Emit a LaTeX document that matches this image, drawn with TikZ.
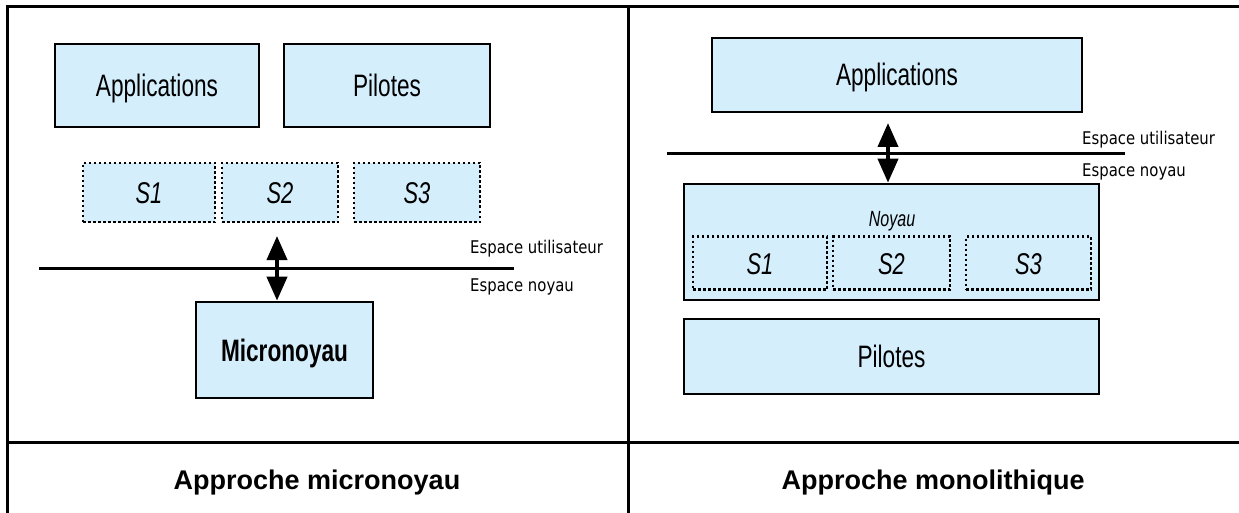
\documentclass[tikz,border=0pt]{standalone}
\usepackage{fontspec}
\setmainfont{Liberation Sans}
\newfontfamily\boxfont{Liberation Sans}[FakeStretch=0.73]
\newfontfamily\spacefont{DejaVu Sans}[FakeStretch=0.85]
\usetikzlibrary{arrows.meta}
\definecolor{boxblue}{RGB}{212,238,252}
\begin{document}
\begin{tikzpicture}[x=1pt,y=-1pt,
  tab/.style={line width=3pt},
  blk/.style={draw=black, line width=2.7pt, fill=boxblue, inner sep=0pt,
    text height=22pt, text depth=0pt,
    font=\boxfont\fontsize{31}{36}\selectfont},
  dotbox/.style={draw=black, line width=2.5pt, dash pattern=on 2.5pt off 2.5pt,
    fill=boxblue, inner sep=0pt, text height=22pt, text depth=0pt,
    font=\boxfont\itshape\fontsize{30}{35}\selectfont},
  sepline/.style={line width=3pt},
  dbl/.style={line width=4pt, {Triangle[length=24pt,width=20pt]}-{Triangle[length=24pt,width=20pt]}},
  lbl/.style={anchor=west, inner sep=0pt, text height=12.5pt, text depth=0pt,
    font=\spacefont\fontsize{17.5}{20}\selectfont},
  captxt/.style={inner sep=0pt, text height=19.5pt, text depth=0pt,
    font=\bfseries\fontsize{27}{32}\selectfont}
]
\useasboundingbox (0,0) rectangle (1239,513);
\fill[white] (0,0) rectangle (1239,513);
% table
\draw[tab] (5.5,7) -- (1239,7);
\draw[tab] (7,5.5) -- (7,513);
\draw[tab] (628,7) -- (628,513);
\draw[tab] (7,442) -- (1239,442);

% ---------- left panel ----------
\node[blk, minimum width=204pt, minimum height=83pt] (appL) at (157,85.5) {Applications};
\node[blk, minimum width=206pt, minimum height=83pt] (pilL) at (387,85.5) {Pilotes};
\node[dotbox, minimum width=132pt, minimum height=59pt] (s1L) at (149,192.5) {S1};
\node[dotbox, minimum width=116pt, minimum height=59pt] (s2L) at (280,192.5) {S2};
\node[dotbox, minimum width=126pt, minimum height=59pt] (s3L) at (417,192.5) {S3};
\coordinate (lineLa) at (39,268);
\coordinate (lineLb) at (514,268);
\draw[sepline] (lineLa) -- (lineLb);
\node[blk, minimum width=177pt, minimum height=96pt, font=\boxfont\bfseries\fontsize{31}{36}\selectfont] (micro) at (284.5,350) {Micronoyau};
\coordinate (arrLtop) at (277,236);
\draw[dbl] (arrLtop) -- (arrLtop |- micro.north);
\node[lbl] (euL) at (470,247) {Espace utilisateur};
\node[lbl] (enL) at (470,285) {Espace noyau};
\node[captxt] (capL) at (317,480) {Approche micronoyau};

% ---------- right panel ----------
\node[blk, minimum width=370pt, minimum height=74pt] (appR) at (897,75) {Applications};
\coordinate (lineRa) at (667,154);
\coordinate (lineRb) at (1125,154);
\draw[sepline] (lineRa) -- (lineRb);
\node[blk, minimum width=415pt, minimum height=116pt] (noyau) at (891.5,242) {};
\node[inner sep=0pt, text height=15pt, text depth=0pt, font=\boxfont\itshape\fontsize{22}{26}\selectfont] (noyauT) at (892,219) {Noyau};
\node[dotbox, minimum width=134pt, minimum height=53pt] (s1R) at (760,263) {S1};
\node[dotbox, minimum width=117pt, minimum height=53pt] (s2R) at (891.5,263) {S2};
\node[dotbox, minimum width=125pt, minimum height=53pt] (s3R) at (1028.5,263) {S3};
\node[blk, minimum width=415pt, minimum height=75pt] (pilR) at (891.5,356.5) {Pilotes};
\coordinate (arrRtop) at (888,123);
\draw[dbl] (arrRtop) -- (arrRtop |- noyau.north);
\node[lbl] (euR) at (1082,138) {Espace utilisateur};
\node[lbl] (enR) at (1082,170) {Espace noyau};
\node[captxt] (capR) at (933,480) {Approche monolithique};
\end{tikzpicture}
\end{document}
